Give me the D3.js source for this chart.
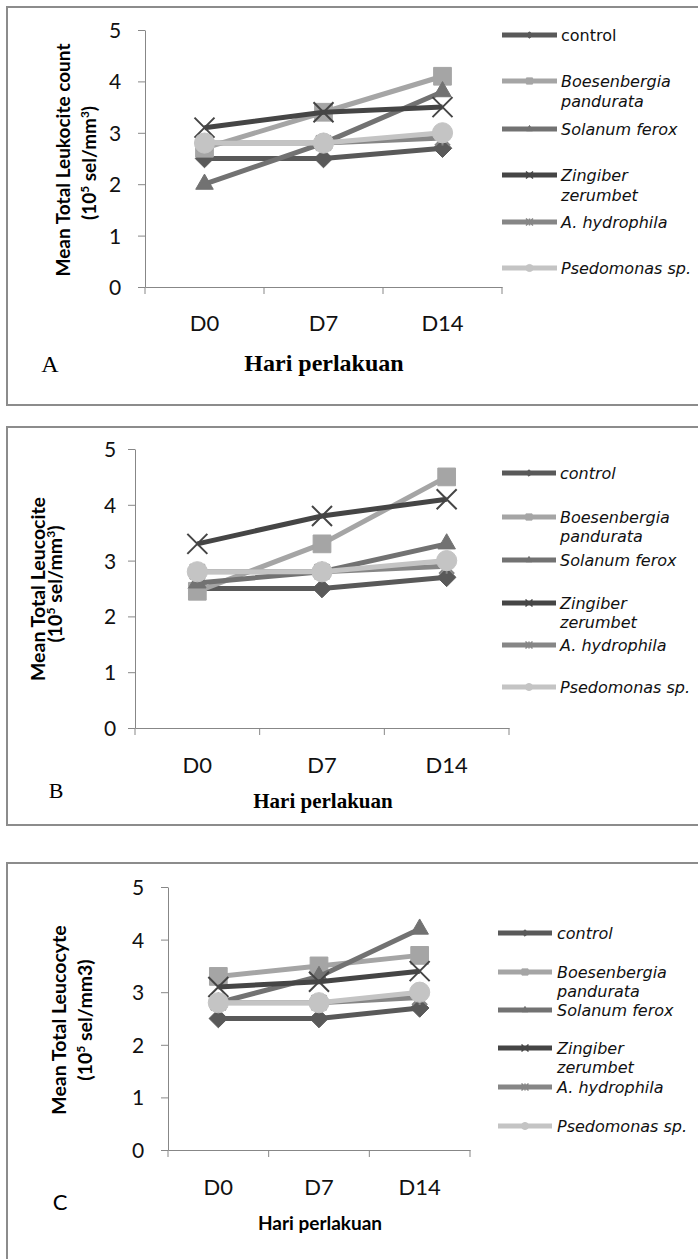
<!DOCTYPE html>
<html>
<head>
<meta charset="utf-8">
<script src="https://cdn.jsdelivr.net/npm/d3@7"></script>
<style>
body{margin:0;background:#fff;}
svg{display:block;}
</style>
</head>
<body>
<svg id="chart" width="698" height="1259"></svg>
<script>
// data
const days = ["D0","D7","D14"];
const yTicks = [0,1,2,3,4,5];
const seriesNames = [["control"],["Boesenbergia","pandurata"],["Solanum ferox"],["Zingiber","zerumbet"],["A. hydrophila"],["Psedomonas sp."]];

const valuesA = [[2.5,2.5,2.7],[2.7,3.4,4.1],[2.0,2.8,3.8],[3.1,3.4,3.5],[2.8,2.8,2.9],[2.8,2.8,3.0]];
const valuesB = [[2.5,2.5,2.7],[2.45,3.3,4.5],[2.6,2.8,3.3],[3.3,3.8,4.1],[2.8,2.8,2.9],[2.8,2.8,3.0]];
const valuesC = [[2.5,2.5,2.7],[3.3,3.5,3.7],[2.8,3.3,4.2],[3.1,3.2,3.4],[2.8,2.8,2.9],[2.8,2.8,3.0]];

const titleA = ["Mean Total Leukocite count", ["(10","5"," sel/mm","3",")"]];
const titleB = ["Mean Total Leucocite", ["(10","5"," sel/mm","3",")"]];
const titleC = ["Mean Total Leucocyte", ["(10","5"," sel/mm3)"]];
const xTitle = "Hari perlakuan";

// styles
const colors = ["#595959","#a5a5a5","#727272","#454545","#868686","#c4c4c4"];
const markers = ["diamond","square","triangle","x","star","circle"];
const axisColor = "#878787";
const calibri = "Lato, 'Open Sans', sans-serif";
const verdana = "'DejaVu Sans', Verdana, sans-serif";
const times = "'Liberation Serif', 'Times New Roman', serif";

const panels = [
	{values:valuesA, title:titleA, letter:"A",
	 box:[7,7,700,398], x0:145, x1:502, yTop:30, yBot:287, tickOff:30, xLabY:323,
	 tFont:19, t1:[63,160], t2:[89,163],
	 letterPos:[50,363], letterFont:times, letterSize:24,
	 xtPos:[324,362], xtFont:times, xtSize:24, xtWeight:"bold",
	 leg:[502,557,561], legY:[35,81,129,175,222,268], legWrap:20, ctrlItalic:false},
	{values:valuesB, title:titleB, letter:"B",
	 box:[7,427,700,398], x0:135, x1:509, yTop:449, yBot:728, tickOff:25, xLabY:765,
	 tFont:19.5, t1:[38,589], t2:[55,584],
	 letterPos:[56,790], letterFont:times, letterSize:22,
	 xtPos:[323,800], xtFont:times, xtSize:21, xtWeight:"bold",
	 leg:[502,556,560], legY:[473,517,560,603,645,687], legWrap:19, ctrlItalic:true},
	{values:valuesC, title:titleC, letter:"C",
	 box:[7,863,700,500], x0:168, x1:470, yTop:887, yBot:1150, tickOff:30, xLabY:1187,
	 tFont:19.5, t1:[59,1020], t2:[85,1020],
	 letterPos:[60,1202], letterFont:calibri, letterSize:22,
	 xtPos:[320,1223], xtFont:calibri, xtSize:19, xtWeight:"bold",
	 leg:[498,552,557], legY:[933,972,1010,1048,1087,1126], legWrap:19, ctrlItalic:true}
];

const svg = d3.select("#chart");

function drawMarker(g, type, cx, cy, s, color){
	if(type == "x"){
		g.append("path")
		.attr("d","M"+(cx-s/2)+","+(cy-s/2)+"L"+(cx+s/2)+","+(cy+s/2)+"M"+(cx-s/2)+","+(cy+s/2)+"L"+(cx+s/2)+","+(cy-s/2))
		.attr("stroke",color).attr("stroke-width",s>10?2:1.5).attr("fill","none");
		return;
	}
	if(type == "star"){
		let h = s/2;
		g.append("path")
		.attr("d","M"+(cx-h)+","+(cy-h)+"L"+(cx+h)+","+(cy+h)+"M"+(cx-h)+","+(cy+h)+"L"+(cx+h)+","+(cy-h)+"M"+cx+","+(cy-h)+"L"+cx+","+(cy+h))
		.attr("stroke",color).attr("stroke-width",s>10?2:1.5).attr("fill","none");
		return;
	}
	let sym = {diamond:d3.symbolDiamond2, square:d3.symbolSquare2, triangle:d3.symbolTriangle2, circle:d3.symbolCircle}[type];
	let area = {diamond:s*s*0.55, square:s*s, triangle:s*s*0.55, circle:s*s*0.8}[type];
	g.append("path")
	.attr("d",d3.symbol().type(sym).size(area)())
	.attr("transform","translate("+cx+","+cy+")")
	.attr("fill",color).attr("stroke",color).attr("stroke-width",1);
}

panels.forEach(function(p){
	let g = svg.append("g");

	g.append("rect")
	.attr("x",p.box[0]).attr("y",p.box[1]).attr("width",p.box[2]).attr("height",p.box[3])
	.attr("fill","none").attr("stroke","#8c8c8c").attr("stroke-width",2);

	let x = d3.scaleBand().domain(days).range([p.x0,p.x1]);
	let y = d3.scaleLinear().domain([0,5]).range([p.yBot,p.yTop]);

	// y axis
	let ya = g.append("g").attr("transform","translate("+p.x0+",0)")
	.call(d3.axisLeft(y).tickValues(yTicks).tickFormat(d3.format("d")).tickSize(7).tickSizeOuter(0));
	ya.select(".domain").attr("stroke",axisColor);
	ya.selectAll(".tick line").attr("stroke",axisColor);
	ya.selectAll(".tick text").attr("font-family",calibri).attr("font-size",21).attr("fill","#111")
	.attr("text-anchor","middle").attr("x",-p.tickOff).attr("dy","0.36em");

	// x axis with ticks on the category boundaries
	let xa = g.append("g").attr("transform","translate(0,"+p.yBot+")")
	.call(d3.axisBottom(x).tickSize(0).tickSizeOuter(0));
	xa.select(".domain").attr("stroke",axisColor);
	xa.selectAll(".tick text").attr("font-family",calibri).attr("font-size",22).attr("fill","#111")
	.attr("y",p.xLabY-p.yBot).attr("dy","0.36em");
	g.selectAll(".bound").data(d3.range(days.length+1)).enter().append("line")
	.attr("x1",function(i){return x.range()[0]+i*x.step();})
	.attr("x2",function(i){return x.range()[0]+i*x.step();})
	.attr("y1",p.yBot).attr("y2",p.yBot+7)
	.attr("stroke",axisColor);

	// y title, two lines
	g.append("text")
	.attr("transform","translate("+p.t1[0]+","+p.t1[1]+") rotate(-90)")
	.attr("text-anchor","middle").attr("dy","0.36em")
	.attr("font-family",calibri).attr("font-weight","bold").attr("font-size",p.tFont)
	.text(p.title[0]);
	let t2 = g.append("text")
	.attr("transform","translate("+p.t2[0]+","+p.t2[1]+") rotate(-90)")
	.attr("text-anchor","middle").attr("dy","0.36em")
	.attr("font-family",calibri).attr("font-weight","bold").attr("font-size",p.tFont);
	p.title[1].forEach(function(part,i){
		let ts = t2.append("tspan").text(part);
		if(i%2==1){
			ts.attr("font-size",p.tFont*0.62).attr("dy",-p.tFont*0.38);
		}else if(i>0){
			ts.attr("dy",p.tFont*0.38);
		}
	});

	// letter and x title
	g.append("text").attr("x",p.letterPos[0]).attr("y",p.letterPos[1]).attr("dy","0.36em")
	.attr("text-anchor","middle").attr("font-family",p.letterFont).attr("font-size",p.letterSize)
	.text(p.letter);
	g.append("text").attr("x",p.xtPos[0]).attr("y",p.xtPos[1]).attr("dy","0.36em")
	.attr("text-anchor","middle").attr("font-family",p.xtFont).attr("font-weight",p.xtWeight)
	.attr("font-size",p.xtSize)
	.text(xTitle);

	// series
	let line = d3.line().x(function(d,i){return x(days[i])+x.bandwidth()/2;}).y(function(d){return y(d);});
	p.values.forEach(function(vals,s){
		let sg = g.append("g");
		sg.append("path").attr("d",line(vals)).attr("fill","none")
		.attr("stroke",colors[s]).attr("stroke-width",5).attr("stroke-linejoin","round");
		vals.forEach(function(v,i){
			drawMarker(sg, markers[s], x(days[i])+x.bandwidth()/2, y(v), markers[s]=="star"?15:20, colors[s]);
		});
	});

	// legend
	seriesNames.forEach(function(name,s){
		let ly = p.legY[s];
		g.append("line").attr("x1",p.leg[0]).attr("x2",p.leg[1]).attr("y1",ly).attr("y2",ly)
		.attr("stroke",colors[s]).attr("stroke-width",5);
		drawMarker(g, markers[s], (p.leg[0]+p.leg[1])/2, ly, 7, colors[s]);
		name.forEach(function(txt,k){
			g.append("text").attr("x",p.leg[2]).attr("y",ly+k*p.legWrap).attr("dy","0.36em")
			.attr("font-family",verdana).attr("font-size",16).attr("fill","#111")
			.attr("font-style",(s==0 && !p.ctrlItalic)?"normal":"italic")
			.text(txt);
		});
	});
});
</script>
</body>
</html>
